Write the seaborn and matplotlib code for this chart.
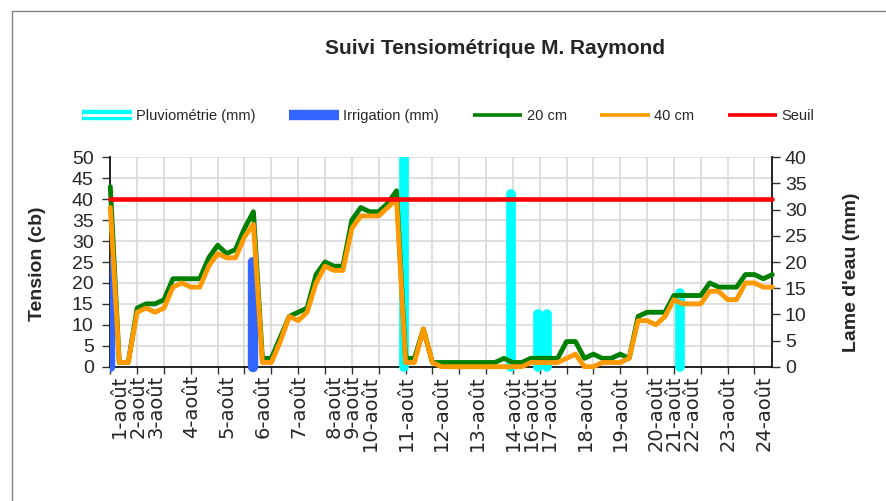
import numpy as np
import pandas as pd
import matplotlib
matplotlib.use("Agg")
import matplotlib.pyplot as plt
import matplotlib.patheffects as pe
from matplotlib.lines import Line2D
from matplotlib.patches import Rectangle
import seaborn as sns

# ---------------- data ----------------
title = "Suivi Tensiométrique M. Raymond"
legend_labels = ["Pluviométrie (mm)", "Irrigation (mm)", "20 cm", "40 cm", "Seuil"]
left_label = "Tension (cb)"
right_label = "Lame d'eau (mm)"

date_labels = ["1-août", "2-août", "3-août", "4-août", "5-août", "6-août", "7-août",
               "8-août", "9-août", "10-août", "11-août", "12-août", "13-août", "14-août",
               "16-août", "17-août", "18-août", "19-août", "20-août", "21-août", "22-août",
               "23-août", "24-août"]
label_index = [0, 2, 4, 8, 12, 16, 20, 24, 26, 28, 32, 36, 40, 44, 46, 48, 52, 56,
               60, 62, 64, 68, 72]

tension_20cm = [43, 1, 1, 14, 15, 15, 16, 21, 21, 21, 21, 26, 29, 27, 28, 33, 37, 2, 2, 7,
                12, 13, 14, 22, 25, 24, 24, 35, 38, 37, 37, 39, 42, 2, 2, 9, 1, 1, 1, 1,
                1, 1, 1, 1, 2, 1, 1, 2, 2, 2, 2, 6, 6, 2, 3, 2, 2, 3, 2, 12,
                13, 13, 13, 17, 17, 17, 17, 20, 19, 19, 19, 22, 22, 21, 22]
tension_40cm = [38, 1, 1, 13, 14, 13, 14, 19, 20, 19, 19, 24, 27, 26, 26, 31, 34, 1, 1, 6,
                12, 11, 13, 20, 24, 23, 23, 33, 36, 36, 36, 38, 40, 1, 1, 9, 1, 0, 0, 0,
                0, 0, 0, 0, 0, 0, 0, 1, 1, 1, 1, 2, 3, 0, 0, 1, 1, 1, 2, 11,
                11, 10, 12, 16, 15, 15, 15, 18, 18, 16, 16, 20, 20, 19, 19]
seuil = 40

pluie_index = [32.8, 44.8, 47.8, 48.8, 63.7]
pluie_mm = [45, 33, 10, 10, 14]
irrigation_index = [0, 16]
irrigation_mm = [20, 20]

# ---------------- style ----------------
sns.set_style("white")
plt.rcParams["font.family"] = ["Liberation Sans", "DejaVu Sans"]

C_PLUIE = "#00FFFF"
C_IRRIG = "#3366FF"
C_20 = "#008000"
C_40 = "#FF9900"
C_SEUIL = "#FF0000"
C_GRID = "#d9d9d9"

W, H = 887, 501
fig = plt.figure(figsize=(W / 100, H / 100), dpi=100)
fig.patch.set_facecolor("white")


def fx(px):
    return px / W


def fy(py):
    return 1 - py / H


L, R, T, B = 110.3, 772.3, 157.3, 366.7
pos = [fx(L), fy(B), (R - L) / W, (B - T) / H]

n = len(tension_20cm)
df = pd.DataFrame({"idx": np.arange(n), "t20": tension_20cm, "t40": tension_40cm})

ax = fig.add_axes(pos)
ax2 = ax.twinx()
axl = fig.add_axes(pos, sharex=ax, sharey=ax)
ax.set_zorder(1)
ax2.set_zorder(2)
axl.set_zorder(3)
ax2.patch.set_visible(False)
axl.patch.set_visible(False)

# bars (thick vertical strokes) on secondary axis
clip_rect = Rectangle((0, -0.06), 1, 1.06, transform=ax2.transAxes)
vp = ax2.vlines(pluie_index, 0, pluie_mm, colors=C_PLUIE, linewidth=7, capstyle="round")
vp.set_clip_path(clip_rect)
clip_rect2 = Rectangle((0, -0.06), 1, 1.06, transform=ax2.transAxes)
vi = ax2.vlines(irrigation_index, 0, irrigation_mm, colors=C_IRRIG, linewidth=7.5, capstyle="round")
vi.set_clip_path(clip_rect2)

# lines on top axes
sns.lineplot(data=df, x="idx", y="t20", ax=axl, color=C_20, linewidth=3.5,
             legend=False, clip_on=False, solid_joinstyle="round")
sns.lineplot(data=df, x="idx", y="t40", ax=axl, color=C_40, linewidth=3.5,
             legend=False, clip_on=False, solid_joinstyle="round")
axl.axhline(seuil, color=C_SEUIL, linewidth=3.3, clip_on=False)
axl.set_axis_off()

# limits and ticks
ax.set_xlim(0, n - 1)
ax.set_ylim(0, 50)
ax2.set_ylim(0, 40)

ax.xaxis.remove_overlapping_locs = False
ax.set_xticks(range(0, n, 3))
ax.set_xticklabels([])
ax.set_xticks(label_index, date_labels, minor=True)
ax.tick_params(axis="x", which="major", direction="out", length=5, width=1,
               color="#333333", bottom=True)
ax.tick_params(axis="x", which="minor", length=0, pad=6, labelsize=14,
               labelrotation=90, bottom=True)
for lab in ax.get_xticklabels(minor=True):
    lab.set_horizontalalignment("left")
    lab.set_fontfamily("DejaVu Sans")

ax.set_yticks(range(0, 51, 5))
ax.tick_params(axis="y", direction="out", length=6, width=1, color="#333333",
               pad=6, labelsize=14, left=True)
ax2.set_yticks(range(0, 41, 5))
ax2.tick_params(axis="y", direction="out", length=6, width=1, color="#333333",
                pad=3, labelsize=14, right=True)

ax.grid(True, which="major", axis="both", color=C_GRID, linewidth=1.2)
ax.set_axisbelow(True)

for s in ["top", "right"]:
    ax.spines[s].set_visible(False)
for s in ["left", "bottom"]:
    ax.spines[s].set_color("black")
    ax.spines[s].set_linewidth(1.2)
for s in ["top", "left", "bottom"]:
    ax2.spines[s].set_visible(False)
ax2.spines["right"].set_color("black")
ax2.spines["right"].set_linewidth(1.2)
ax.set_xlabel("")
ax.set_ylabel("")
ax2.set_ylabel("")

# texts
fig.text(fx(495), fy(49), title, ha="center", va="center", fontsize=15, fontweight="bold")
fig.text(fx(37), fy(264), left_label, rotation=90, ha="center", va="center",
         fontsize=14, fontweight="bold")
fig.text(fx(852), fy(272), right_label, rotation=90, ha="center", va="center",
         fontsize=14, fontweight="bold")

# legend
handles = [
    Line2D([], [], color="white", linewidth=2, solid_capstyle="butt",
           path_effects=[pe.Stroke(linewidth=7.5, foreground=C_PLUIE), pe.Normal()]),
    Line2D([], [], color=C_IRRIG, linewidth=7.5, solid_capstyle="butt"),
    Line2D([], [], color=C_20, linewidth=2.6, solid_capstyle="butt"),
    Line2D([], [], color=C_40, linewidth=2.6, solid_capstyle="butt"),
    Line2D([], [], color=C_SEUIL, linewidth=2.6, solid_capstyle="butt"),
]
fig.legend(handles, legend_labels, loc="center", bbox_to_anchor=(fx(448.5), fy(116)),
           ncol=5, frameon=False, fontsize=10.5, handlelength=3.4, handletextpad=0.3,
           columnspacing=2.3, borderpad=0)

# outer chart frame
fig.add_artist(Line2D([fx(12), fx(12), 1.0], [0, fy(11), fy(11)],
                      transform=fig.transFigure, color="#808080", linewidth=1.0))

fig.savefig("out.png", dpi=100, facecolor="white")
